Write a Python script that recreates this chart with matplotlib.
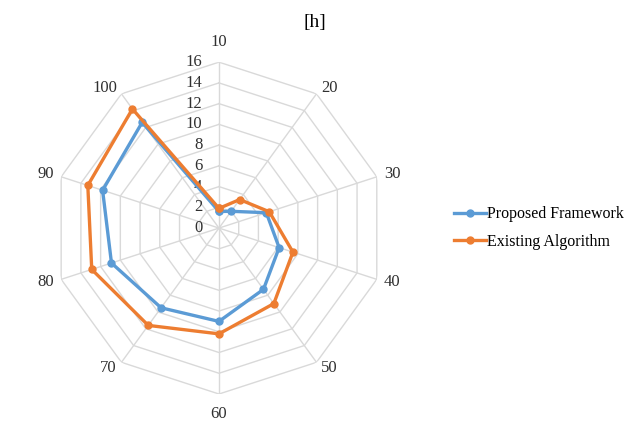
import numpy as np
import matplotlib.pyplot as plt

plt.rcParams['font.family'] = ['Liberation Serif', 'DejaVu Serif']

categories = ['10', '20', '30', '40', '50', '60', '70', '80', '90', '100']
proposed = [1.6, 2.0, 4.8, 6.1, 7.3, 9.0, 9.5, 10.9, 11.8, 12.6]
existing = [1.9, 3.4, 5.1, 7.5, 9.0, 10.2, 11.6, 12.9, 13.3, 14.2]
rings = [0, 2, 4, 6, 8, 10, 12, 14, 16]

BLUE = '#5B9BD5'
ORANGE = '#ED7D31'
GRID = '#d9d9d9'
TEXT = '#303030'

fig = plt.figure(figsize=(6.36, 4.26), dpi=100)
ax = fig.add_axes([0.0833, 0.0751, 0.522, 0.779], projection='polar')
ax.set_theta_zero_location('N')
ax.set_theta_direction(-1)
ax.set_ylim(0, 16)
ax.axis('off')

n = len(categories)
theta = np.arange(n) * 2 * np.pi / n
closed = np.append(theta, theta[0])

# polygon rings and spokes
for r in rings[1:]:
    ax.plot(closed, [r] * (n + 1), color=GRID, lw=1.0, zorder=1)
for t in theta:
    ax.plot([t, t], [0, 16], color=GRID, lw=1.0, zorder=1)

# radial value labels along the top spoke
for r in rings:
    ax.annotate(str(r), xy=(0, r), xytext=(-12, 0), textcoords='offset points',
                ha='right', va='center', fontsize=12, color=TEXT)

# category labels just outside each vertex
for t, c in zip(theta, categories):
    sx, sy = np.sin(t), np.cos(t)
    if abs(sx) < 1e-6:
        ha, dist = 'center', 14.5
    else:
        ha, dist = ('left' if sx > 0 else 'right'), 5.5
    ax.annotate(c, xy=(t, 16), xytext=(dist * sx, dist * sy),
                textcoords='offset points', ha=ha, va='center',
                fontsize=12, color=TEXT)

for vals, col, name in [(proposed, BLUE, 'Proposed Framework'),
                        (existing, ORANGE, 'Existing Algorithm')]:
    ax.plot(closed, vals + vals[:1], color=col, lw=2.4, marker='o',
            markersize=5, label=name, zorder=3)

fig.text(0.495, 0.948, '[h]', ha='center', va='center', fontsize=14)

fig.legend(loc='center left', bbox_to_anchor=(0.692, 0.465), frameon=False,
           fontsize=11.5, handlelength=1.95, handletextpad=0.1, labelspacing=0.72)

fig.savefig('out.png', dpi=100)
